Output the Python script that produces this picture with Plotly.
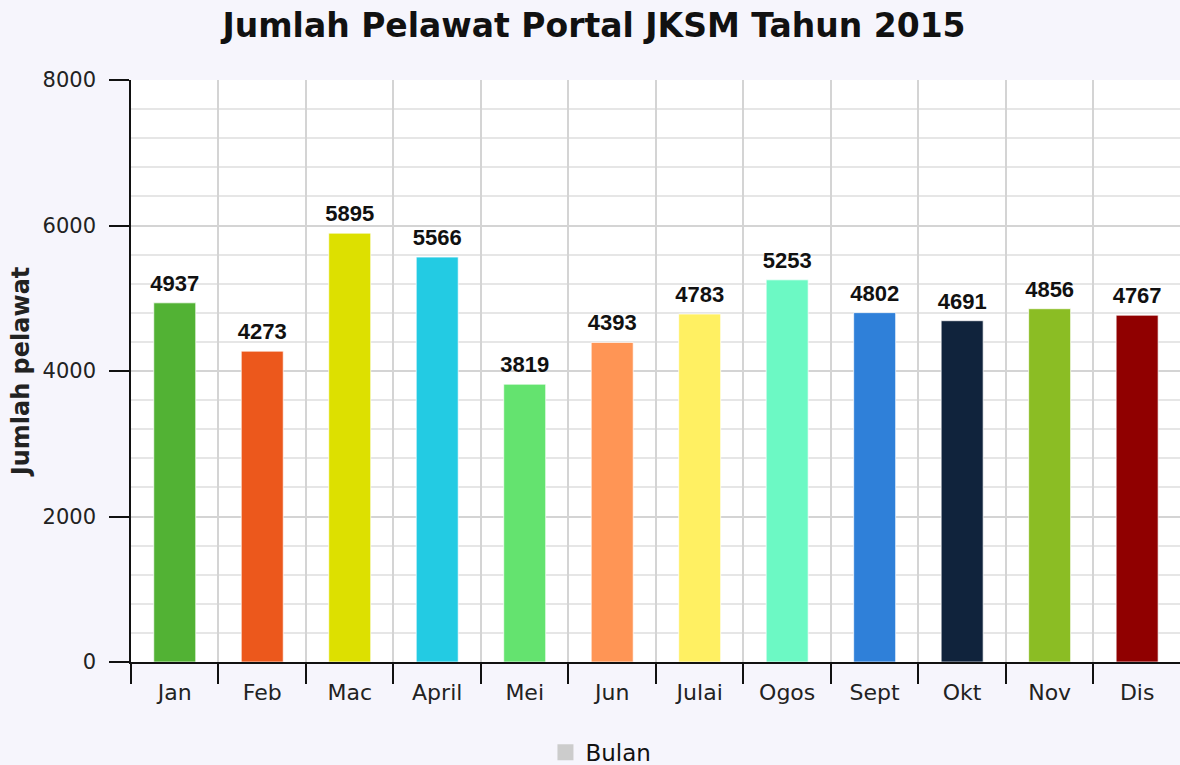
import plotly.graph_objects as go

months = ["Jan", "Feb", "Mac", "April", "Mei", "Jun", "Julai", "Ogos", "Sept", "Okt", "Nov", "Dis"]
visitors = [4937, 4273, 5895, 5566, 3819, 4393, 4783, 5253, 4802, 4691, 4856, 4767]
colors = ["#52b234", "#ec581c", "#dde000", "#23cbe3", "#64e36f", "#ff9555",
          "#fff062", "#6cf9c4", "#2f80d9", "#10233c", "#8bbd24", "#900000"]
y_ticks = [0, 2000, 4000, 6000, 8000]

fig = go.Figure()
fig.add_trace(go.Bar(
    x=months, y=visitors,
    marker=dict(color=colors, line=dict(color="rgba(255,255,255,0.7)", width=1)),
    width=0.48,
    showlegend=False,
    hoverinfo="x+y",
))
# value labels above the bars
fig.add_trace(go.Scatter(
    x=months, y=visitors,
    mode="markers+text",
    text=[f"<b>{v}</b>" for v in visitors],
    textposition="top center",
    textfont=dict(family="Liberation Sans", size=22, color="#111111"),
    marker=dict(size=9, opacity=0),
    cliponaxis=False,
    showlegend=False,
    hoverinfo="skip",
))
fig.add_trace(go.Scatter(
    x=[None], y=[None], mode="markers", name="Bulan",
    marker=dict(symbol="square", size=16, color="#cccccc"),
    showlegend=True,
))

fig.update_layout(
    width=1180, height=765,
    margin=dict(l=131, r=0, t=80, b=103, autoexpand=False),
    paper_bgcolor="#f6f5fc",
    plot_bgcolor="#ffffff",
    font=dict(family="DejaVu Sans", color="#222222"),
    title=dict(text="<b>Jumlah Pelawat Portal JKSM Tahun 2015</b>",
               font=dict(family="DejaVu Sans", size=33, color="#111111"),
               x=0.5034, xref="container", xanchor="center",
               y=1 - 25 / 765, yref="container", yanchor="middle"),
    legend=dict(orientation="h", x=0.448, xanchor="center", y=-0.155, yanchor="middle",
                font=dict(family="DejaVu Sans", size=23, color="#111111"),
                bgcolor="rgba(0,0,0,0)"),
)
fig.update_xaxes(
    type="category", range=[-0.5, 11.49],
    tickson="boundaries", ticks="outside", ticklen=20, tickwidth=1.5, tickcolor="#111111",
    ticklabelstandoff=10,
    showgrid=True, gridcolor="#d4d4d4", gridwidth=1.5,
    showline=True, linecolor="#111111", linewidth=1.5,
    tickfont=dict(family="DejaVu Sans", size=22, color="#222222"),
)
fig.update_yaxes(
    range=[0, 8000], tickvals=y_ticks,
    ticks="outside", ticklen=20, tickwidth=1.5, tickcolor="#111111",
    ticklabelstandoff=9,
    showgrid=True, gridcolor="#d4d4d4", gridwidth=1.5,
    minor=dict(dtick=400, showgrid=True, gridcolor="#e6e6e6", gridwidth=1.5),
    showline=True, linecolor="#111111", linewidth=1.5,
    zeroline=False,
    tickfont=dict(family="DejaVu Sans", size=21, color="#222222"),
    title=dict(text="<b>Jumlah pelawat</b>", standoff=6,
               font=dict(family="DejaVu Sans", size=24, color="#222222")),
)

fig.write_html("out.html", config={"displayModeBar": False},
               post_script="document.body.style.margin='0';")
